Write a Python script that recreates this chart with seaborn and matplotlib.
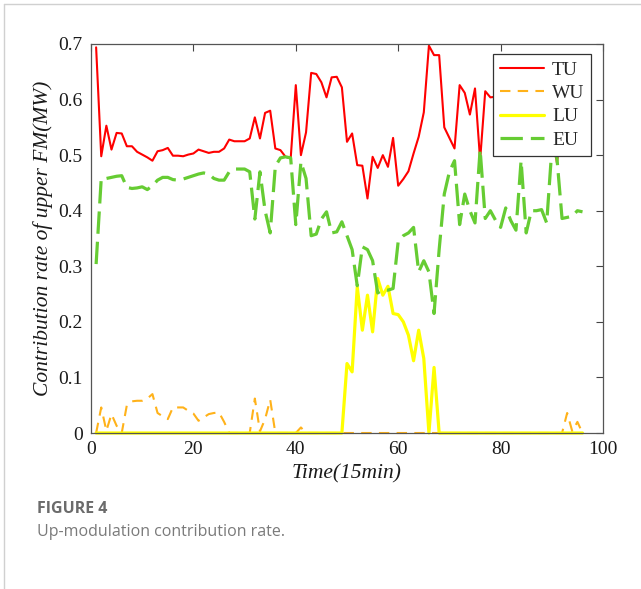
import numpy as np
import pandas as pd
import matplotlib
matplotlib.use("Agg")
import matplotlib.pyplot as plt
from matplotlib.lines import Line2D
import seaborn as sns

# ---------------- data ----------------
time = list(range(1, 97))

TU = [0.694, 0.498, 0.553, 0.510, 0.540, 0.539, 0.516, 0.516, 0.506, 0.501,
      0.496, 0.490, 0.507, 0.509, 0.513, 0.499, 0.499, 0.498, 0.501, 0.503,
      0.510, 0.507, 0.504, 0.506, 0.506, 0.512, 0.528, 0.525, 0.525, 0.525,
      0.530, 0.568, 0.530, 0.576, 0.580, 0.512, 0.509, 0.497, 0.494, 0.626,
      0.500, 0.541, 0.648, 0.646, 0.631, 0.604, 0.640, 0.641, 0.622, 0.524,
      0.539, 0.482, 0.481, 0.422, 0.497, 0.477, 0.500, 0.479, 0.531, 0.445,
      0.457, 0.471, 0.503, 0.533, 0.577, 0.697, 0.680, 0.680, 0.550, 0.531,
      0.512, 0.626, 0.612, 0.573, 0.620, 0.491, 0.615, 0.604, 0.605, 0.612,
      0.620, 0.600, 0.590, 0.610, 0.600, 0.580, 0.600, 0.590, 0.570, 0.550,
      0.486, 0.560, 0.580, 0.600, 0.590, 0.600]

WU = [0.000, 0.046, 0.004, 0.034, 0.013, 0.000, 0.050, 0.057, 0.058, 0.058,
      0.062, 0.070, 0.036, 0.030, 0.025, 0.046, 0.046, 0.046, 0.040, 0.035,
      0.022, 0.028, 0.034, 0.036, 0.037, 0.020, 0.000, 0.000, 0.000, 0.000,
      0.000, 0.062, 0.003, 0.025, 0.060, 0.000, 0.000, 0.000, 0.000, 0.000,
      0.010, 0.000, 0.000, 0.000, 0.000, 0.000, 0.000, 0.000, 0.000, 0.000,
      0.000, 0.000, 0.000, 0.000, 0.000, 0.000, 0.000, 0.000, 0.000, 0.000,
      0.000, 0.000, 0.000, 0.000, 0.000, 0.000, 0.000, 0.000, 0.000, 0.000,
      0.000, 0.000, 0.000, 0.000, 0.000, 0.000, 0.000, 0.000, 0.000, 0.000,
      0.000, 0.000, 0.000, 0.000, 0.000, 0.000, 0.000, 0.000, 0.000, 0.000,
      0.000, 0.000, 0.036, 0.003, 0.020, 0.000]

LU = [0.0] * 49 + [0.125, 0.110, 0.263, 0.185, 0.248, 0.182, 0.278, 0.248,
                   0.264, 0.215, 0.213, 0.200, 0.176, 0.130, 0.185, 0.134,
                   0.000, 0.118] + [0.0] * 29

EU = [0.304, 0.458, 0.458, 0.460, 0.462, 0.463, 0.442, 0.440, 0.441, 0.443,
      0.438, 0.445, 0.455, 0.460, 0.460, 0.456, 0.455, 0.457, 0.460, 0.463,
      0.466, 0.468, 0.466, 0.458, 0.455, 0.455, 0.470, 0.475, 0.475, 0.475,
      0.470, 0.385, 0.470, 0.400, 0.360, 0.480, 0.495, 0.497, 0.495, 0.375,
      0.488, 0.458, 0.355, 0.358, 0.385, 0.398, 0.360, 0.362, 0.380, 0.355,
      0.330, 0.265, 0.335, 0.330, 0.310, 0.252, 0.258, 0.257, 0.260, 0.345,
      0.355, 0.360, 0.370, 0.290, 0.310, 0.290, 0.215, 0.330, 0.430, 0.470,
      0.490, 0.375, 0.430, 0.400, 0.378, 0.510, 0.386, 0.400, 0.383, 0.370,
      0.405, 0.382, 0.365, 0.490, 0.360, 0.400, 0.400, 0.402, 0.378, 0.510,
      0.495, 0.386, 0.388, 0.390, 0.400, 0.398]

series_names = ["TU", "WU", "LU", "EU"]
x_ticks = [0, 20, 40, 60, 80, 100]
y_ticks = [0, 0.1, 0.2, 0.3, 0.4, 0.5, 0.6, 0.7]
y_tick_labels = ["0", "0.1", "0.2", "0.3", "0.4", "0.5", "0.6", "0.7"]

# ---------------- style ----------------
sns.set_style("white")
SERIF = ["Liberation Serif", "DejaVu Serif"]
plt.rcParams["font.family"] = SERIF

fig = plt.figure(figsize=(6.41, 5.89), dpi=100)
ax = fig.add_axes([91 / 641, 1 - 433 / 589, 512 / 641, 389 / 589])

styles = {
    "TU": dict(color="#FF0000", lw=1.5, linestyle="-"),
    "WU": dict(color="#FFB21A", lw=1.5, linestyle=(0, (5, 3.5))),
    "LU": dict(color="#FFFF00", lw=2.3, linestyle="-"),
    "EU": dict(color="#66CC33", lw=2.3, linestyle=(0, (7, 2.5))),
}
values = {"TU": TU, "WU": WU, "LU": LU, "EU": EU}

for name in series_names:
    df = pd.DataFrame({"Time": time, "Value": values[name]})
    sns.lineplot(data=df, x="Time", y="Value", ax=ax, label=name,
                 clip_on=False if name in ("LU", "WU") else True,
                 **styles[name])

ax.set_xlim(0, 100)
ax.set_ylim(0, 0.7)
ax.set_xticks(x_ticks)
ax.set_xticklabels([str(v) for v in x_ticks], fontfamily=SERIF, fontsize=14)
ax.set_yticks(y_ticks)
ax.set_yticklabels(y_tick_labels, fontfamily=SERIF, fontsize=14)

for sp in ax.spines.values():
    sp.set_visible(True)
    sp.set_color("#555555")
    sp.set_linewidth(0.9)

ax.tick_params(axis="both", direction="in", length=5, width=0.8,
               top=True, right=True, color="#444444",
               labelcolor="#1a1a1a", pad=6)

ax.set_xlabel("Time(15min)", fontsize=15.5, fontstyle="italic",
              color="#1a1a1a", fontfamily=SERIF)
ax.set_ylabel("Contribution rate of upper FM(MW)", fontsize=15.5,
              fontstyle="italic", color="#1a1a1a", fontfamily=SERIF)

leg = ax.legend(loc="upper right", bbox_to_anchor=(0.977, 0.974),
                borderaxespad=0, fancybox=False, framealpha=1,
                edgecolor="#333333", prop={"family": SERIF, "size": 14},
                handlelength=2.3, handletextpad=0.4, labelspacing=0.3,
                borderpad=0.35)
leg.get_frame().set_linewidth(0.9)

# caption
fig.text(37 / 641, 1 - 509 / 589, "FIGURE 4", fontsize=11.5,
         fontweight="bold", color="#6b6b6b", va="center", ha="left",
         family=["Open Sans", "DejaVu Sans"])
fig.text(37 / 641, 1 - 532 / 589, "Up-modulation contribution rate.",
         fontsize=11.5, color="#7a7a7a", va="center", ha="left",
         family=["Open Sans", "DejaVu Sans"])

# page frame lines
fig.add_artist(Line2D([4 / 641, 4 / 641], [0, 1 - 4 / 589],
                      color="#d0d0d0", lw=1, transform=fig.transFigure))
fig.add_artist(Line2D([4 / 641, 1], [1 - 4 / 589, 1 - 4 / 589],
                      color="#d0d0d0", lw=1, transform=fig.transFigure))

fig.savefig("out.png", dpi=100)
